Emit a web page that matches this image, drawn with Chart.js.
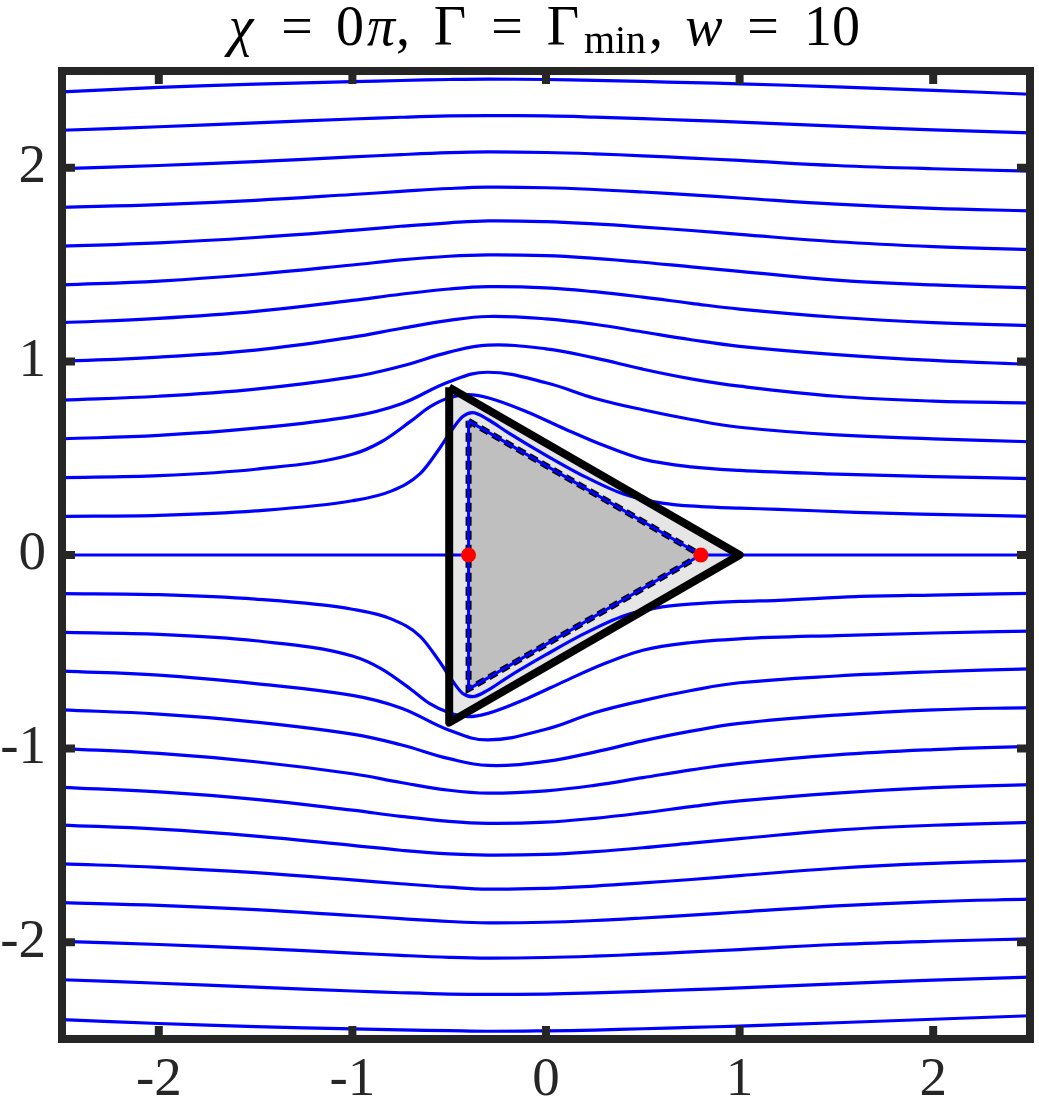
<!DOCTYPE html>
<html>
<head>
<meta charset="utf-8">
<script src="https://cdn.jsdelivr.net/npm/chart.js@4.4.0/dist/chart.umd.min.js"></script>
<style>
  html, body { margin: 0; padding: 0; background: #fff; }
  #wrap { width: 1039px; height: 1103px; }
</style>
</head>
<body>
<div id="wrap"><canvas id="myChart" width="1039" height="1103"></canvas></div>
<script>
// assi e tick
const tickVals = [-2, -1, 0, 1, 2]
const axisMin = -2.5
const axisMax = 2.5

// griglia x comune per le linee di flusso lontane dal corpo
const xGrid = [-2.5, -2, -1.5, -1, -0.75, -0.5, -0.3, 0, 0.25, 0.5, 0.75, 1, 1.5, 2, 2.5]

// linee di flusso sopra (partenza a sinistra y = 0.2 ... 2.4)
const y240 = [2.392, 2.415, 2.432, 2.445, 2.451, 2.456, 2.458, 2.456, 2.452, 2.446, 2.440, 2.434, 2.418, 2.400, 2.380]
const y220 = [2.194, 2.212, 2.232, 2.252, 2.261, 2.268, 2.270, 2.268, 2.262, 2.254, 2.245, 2.236, 2.215, 2.196, 2.180]
const y200 = [1.996, 2.012, 2.032, 2.056, 2.068, 2.078, 2.082, 2.079, 2.072, 2.062, 2.050, 2.038, 2.012, 1.995, 1.983]
const y180 = [1.796, 1.810, 1.832, 1.862, 1.878, 1.893, 1.900, 1.897, 1.888, 1.875, 1.860, 1.844, 1.812, 1.790, 1.778]
const y160 = [1.595, 1.612, 1.640, 1.677, 1.698, 1.716, 1.726, 1.722, 1.710, 1.694, 1.676, 1.656, 1.618, 1.593, 1.577]
const y140 = [1.395, 1.415, 1.450, 1.498, 1.524, 1.543, 1.550, 1.546, 1.532, 1.512, 1.488, 1.465, 1.420, 1.395, 1.380]
const y120 = [1.200, 1.222, 1.258, 1.315, 1.347, 1.374, 1.386, 1.380, 1.360, 1.332, 1.300, 1.270, 1.228, 1.200, 1.185]
const y100 = [1.000, 1.022, 1.058, 1.125, 1.170, 1.212, 1.232, 1.220, 1.192, 1.152, 1.112, 1.078, 1.035, 1.005, 0.985]
const y080 = [0.800, 0.820, 0.857, 0.920, 0.975, 1.048, 1.084, 1.065, 1.018, 0.960, 0.910, 0.872, 0.820, 0.795, 0.785]
const y060 = [0.600, 0.618, 0.655, 0.716, 0.780, 0.895, 0.944, 0.890, 0.810, 0.750, 0.700, 0.660, 0.620, 0.600, 0.585]

// le due linee vicine al triangolo hanno punti propri
const x040 = [-2.5, -2, -1.5, -1, -0.85, -0.7, -0.6, -0.5, -0.4, -0.3, -0.1, 0.1, 0.3, 0.5, 0.75, 1, 1.5, 2, 2.5]
const y040 = [0.400, 0.410, 0.443, 0.520, 0.585, 0.690, 0.765, 0.812, 0.828, 0.812, 0.740, 0.650, 0.565, 0.495, 0.455, 0.437, 0.418, 0.405, 0.395]
const x020 = [-2.5, -2, -1.5, -1, -0.8, -0.65, -0.55, -0.48, -0.43, -0.38, -0.3, -0.2, 0, 0.2, 0.4, 0.6, 0.8, 1, 1.2, 1.6, 2, 2.5]
const y020 = [0.200, 0.205, 0.228, 0.280, 0.330, 0.420, 0.550, 0.655, 0.715, 0.735, 0.700, 0.635, 0.515, 0.405, 0.315, 0.268, 0.250, 0.242, 0.236, 0.220, 0.210, 0.200]

// linee di flusso sotto
const yM020 = [-0.200, -0.205, -0.228, -0.280, -0.330, -0.420, -0.550, -0.655, -0.715, -0.732, -0.698, -0.633, -0.515, -0.405, -0.315, -0.268, -0.250, -0.240, -0.234, -0.215, -0.207, -0.198]
const yM040 = [-0.400, -0.410, -0.443, -0.522, -0.588, -0.692, -0.768, -0.815, -0.835, -0.818, -0.742, -0.650, -0.562, -0.492, -0.452, -0.433, -0.416, -0.403, -0.393]
const yM060 = [-0.600, -0.620, -0.664, -0.725, -0.790, -0.905, -0.955, -0.900, -0.815, -0.752, -0.700, -0.660, -0.625, -0.603, -0.588]
const yM080 = [-0.800, -0.822, -0.863, -0.925, -0.980, -1.052, -1.087, -1.066, -1.018, -0.960, -0.910, -0.870, -0.827, -0.800, -0.788]
const yM100 = [-1.000, -1.025, -1.068, -1.130, -1.175, -1.215, -1.230, -1.218, -1.190, -1.150, -1.110, -1.076, -1.032, -1.005, -0.988]
const yM120 = [-1.200, -1.224, -1.262, -1.318, -1.350, -1.376, -1.386, -1.380, -1.360, -1.332, -1.300, -1.270, -1.230, -1.202, -1.186]
const yM140 = [-1.395, -1.416, -1.452, -1.500, -1.525, -1.544, -1.550, -1.546, -1.532, -1.512, -1.488, -1.465, -1.421, -1.396, -1.381]
const yM160 = [-1.595, -1.613, -1.641, -1.678, -1.698, -1.716, -1.726, -1.722, -1.710, -1.694, -1.676, -1.656, -1.618, -1.593, -1.578]
const yM180 = [-1.796, -1.810, -1.832, -1.862, -1.878, -1.893, -1.900, -1.897, -1.888, -1.875, -1.860, -1.844, -1.812, -1.790, -1.778]
const yM200 = [-1.996, -2.012, -2.032, -2.056, -2.068, -2.078, -2.082, -2.079, -2.072, -2.062, -2.050, -2.038, -2.012, -1.995, -1.983]
const yM220 = [-2.194, -2.212, -2.232, -2.252, -2.261, -2.268, -2.270, -2.268, -2.262, -2.254, -2.245, -2.236, -2.215, -2.196, -2.180]
const yM240 = [-2.400, -2.420, -2.436, -2.448, -2.453, -2.457, -2.460, -2.458, -2.454, -2.447, -2.440, -2.433, -2.416, -2.398, -2.380]

// linea y = 0 (fino ai punti di ristagno)
const x0Left = [-2.5, -0.4]
const x0Right = [0.8, 2.5]
const y0 = [0, 0]

// triangolo esterno, triangolo interno (corpo) e punti di ristagno
const outerTriX = [-0.5, 1, -0.5, -0.5]
const outerTriY = [0.866, 0, -0.866, 0.866]
const innerTriX = [-0.4, 0.8, -0.4, -0.4]
const innerTriY = [0.693, 0, -0.693, 0.693]
const stagX = [-0.4, 0.8]
const stagY = [0, 0]

function pts(xs, ys) {
  return xs.map((x, i) => ({ x: x, y: ys[i] }))
}

// smooth = true -> curva con tension, altrimenti monotone (linee vicine al corpo)
function stream(xs, ys, smooth) {
  return {
    data: pts(xs, ys),
    showLine: true,
    borderColor: '#0000ff',
    borderWidth: 3.2,
    pointRadius: 0,
    cubicInterpolationMode: smooth ? 'default' : 'monotone',
    tension: smooth ? 0.4 : 0,
    fill: false,
    order: 4
  }
}

const farUp = [y240, y220, y200, y180, y160, y140, y120, y100, y080, y060]
const farDown = [yM240, yM220, yM200, yM180, yM160, yM140, yM120, yM100, yM080, yM060]

const datasets = []
// riempimenti in fondo
datasets.push({ data: pts(outerTriX, outerTriY), showLine: true, borderWidth: 0, pointRadius: 0, tension: 0, fill: 'shape', backgroundColor: '#e6e6e6', borderColor: 'rgba(0,0,0,0)', order: 7 })
datasets.push({ data: pts(innerTriX, innerTriY), showLine: true, borderWidth: 0, pointRadius: 0, tension: 0, fill: 'shape', backgroundColor: '#bfbfbf', borderColor: 'rgba(0,0,0,0)', order: 6 })
farUp.forEach(ys => datasets.push(stream(xGrid, ys, true)))
farDown.forEach(ys => datasets.push(stream(xGrid, ys, true)))
datasets.push(stream(x040, y040, false))
datasets.push(stream(x020, y020, false))
datasets.push(stream(x040, yM040, false))
datasets.push(stream(x020, yM020, false))
datasets.push(stream(x0Left, y0, false))
datasets.push(stream(x0Right, y0, false))
// bordo nero del triangolo esterno
datasets.push({ data: pts(outerTriX, outerTriY), showLine: true, borderColor: '#000000', borderWidth: 8, borderJoinStyle: 'round', pointRadius: 0, tension: 0, fill: false, order: 3 })
// bordo tratteggiato del corpo + linea di flusso psi = 0
datasets.push({ data: pts(innerTriX, innerTriY), showLine: true, borderColor: '#000000', borderWidth: 6, borderDash: [9, 5], pointRadius: 0, tension: 0, fill: false, order: 2 })
datasets.push({ data: pts(innerTriX, innerTriY), showLine: true, borderColor: '#0000ff', borderWidth: 3, borderJoinStyle: 'round', pointRadius: 0, tension: 0, fill: false, order: 1 })
// punti rossi
datasets.push({ data: pts(stagX, stagY), showLine: false, pointRadius: 7.5, pointBackgroundColor: '#ff0000', pointBorderWidth: 0, order: 0 })

// titolo in stile LaTeX, pezzo per pezzo (x = centro del glifo)
const titleParts = [
  { t: 'χ', it: true, x: 241 },
  { t: '=', x: 297 },
  { t: '0', x: 350 },
  { t: 'π', it: true, x: 381 },
  { t: ',', x: 403 },
  { t: 'Γ', x: 450 },
  { t: '=', x: 507 },
  { t: 'Γ', x: 563 },
  { t: 'min', x: 615, sub: true },
  { t: ',', x: 656 },
  { t: 'w', it: true, x: 704 },
  { t: '=', x: 763 },
  { t: '10', x: 832 }
]

const framePlugin = {
  id: 'frame',
  afterDraw(chart) {
    const ctx = chart.ctx
    const a = chart.chartArea
    const xs = chart.scales.x
    const ys = chart.scales.y
    ctx.save()
    ctx.strokeStyle = '#262626'
    ctx.lineWidth = 8
    ctx.lineCap = 'butt'
    // tick verso l'interno su tutti e 4 i lati
    tickVals.forEach(v => {
      const px = xs.getPixelForValue(v)
      const py = ys.getPixelForValue(v)
      ctx.beginPath()
      ctx.moveTo(px, a.bottom); ctx.lineTo(px, a.bottom - 13)
      ctx.moveTo(px, a.top); ctx.lineTo(px, a.top + 13)
      ctx.moveTo(a.left, py); ctx.lineTo(a.left + 13, py)
      ctx.moveTo(a.right, py); ctx.lineTo(a.right - 13, py)
      ctx.stroke()
    })
    ctx.lineJoin = 'miter'
    ctx.strokeRect(a.left, a.top, a.right - a.left, a.bottom - a.top)

    // titolo
    ctx.fillStyle = '#000000'
    ctx.textBaseline = 'alphabetic'
    ctx.textAlign = 'center'
    titleParts.forEach(p => {
      if (p.sub) {
        ctx.font = '40px "Liberation Serif", serif'
        ctx.fillText(p.t, p.x, 53)
      } else {
        ctx.font = (p.it ? 'italic ' : '') + '56px "Liberation Serif", serif'
        ctx.fillText(p.t, p.x, 45)
      }
    })
    ctx.restore()
  }
}

const ctx = document.getElementById('myChart').getContext('2d')
const myChart = new Chart(ctx, {
  type: 'scatter',
  data: { datasets: datasets },
  options: {
    responsive: false,
    animation: false,
    devicePixelRatio: 1,
    layout: { padding: { top: 71, right: 9, left: 0, bottom: 0 } },
    plugins: { legend: { display: false }, tooltip: { enabled: false } },
    scales: {
      x: {
        type: 'linear',
        min: axisMin,
        max: axisMax,
        afterBuildTicks: s => { s.ticks = tickVals.map(v => ({ value: v })) },
        afterFit: s => { s.height = 64 },
        grid: { display: false, drawTicks: false },
        border: { display: false },
        ticks: {
          padding: 9,
          color: '#262626',
          font: { family: '"Liberation Serif", serif', size: 55 },
          callback: v => String(v)
        }
      },
      y: {
        type: 'linear',
        min: axisMin,
        max: axisMax,
        afterBuildTicks: s => { s.ticks = tickVals.map(v => ({ value: v })) },
        afterFit: s => { s.width = 62 },
        grid: { display: false, drawTicks: false },
        border: { display: false },
        ticks: {
          padding: 16,
          color: '#262626',
          font: { family: '"Liberation Serif", serif', size: 55 },
          callback: v => String(v)
        }
      }
    }
  },
  plugins: [framePlugin]
})
</script>
</body>
</html>
